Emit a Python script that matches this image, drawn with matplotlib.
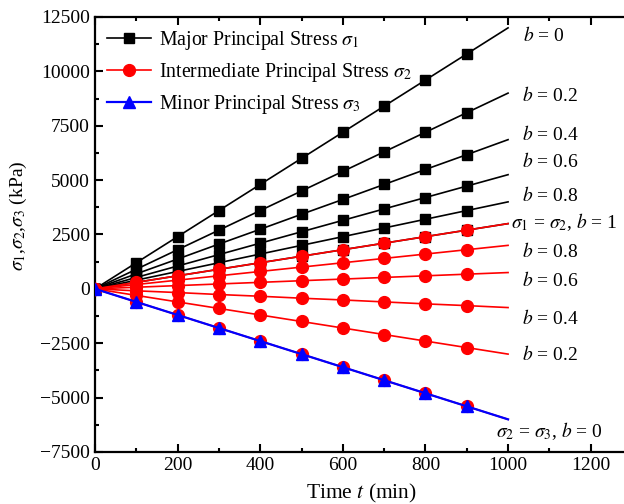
import matplotlib
matplotlib.use("Agg")
import matplotlib.pyplot as plt
from matplotlib.ticker import MultipleLocator

plt.rcParams['font.family'] = ['Liberation Serif', 'DejaVu Serif']
plt.rcParams['mathtext.fontset'] = 'stix'

# time (min)
t = [0, 100, 200, 300, 400, 500, 600, 700, 800, 900, 1000]

# major principal stress for b = 0, 0.2, 0.4, 0.6, 0.8, 1
s1_b0 = [0, 1200, 2400, 3600, 4800, 6000, 7200, 8400, 9600, 10800, 12000]
s1_b02 = [0, 900, 1800, 2700, 3600, 4500, 5400, 6300, 7200, 8100, 9000]
s1_b04 = [0, 690, 1370, 2060, 2740, 3430, 4110, 4800, 5490, 6170, 6860]
s1_b06 = [0, 525, 1050, 1575, 2100, 2625, 3150, 3675, 4200, 4725, 5250]
s1_b08 = [0, 400, 800, 1200, 1600, 2000, 2400, 2800, 3200, 3600, 4000]
s1_b1 = [0, 300, 600, 900, 1200, 1500, 1800, 2100, 2400, 2700, 3000]

# intermediate principal stress
s2_b0 = [0, -600, -1200, -1800, -2400, -3000, -3600, -4200, -4800, -5400, -6000]
s2_b02 = [0, -300, -600, -900, -1200, -1500, -1800, -2100, -2400, -2700, -3000]
s2_b04 = [0, -90, -170, -260, -340, -430, -510, -600, -690, -770, -860]
s2_b06 = [0, 75, 150, 225, 300, 375, 450, 525, 600, 675, 750]
s2_b08 = [0, 200, 400, 600, 800, 1000, 1200, 1400, 1600, 1800, 2000]
s2_b1 = [0, 300, 600, 900, 1200, 1500, 1800, 2100, 2400, 2700, 3000]

# minor principal stress (same for all b)
s3 = [0, -600, -1200, -1800, -2400, -3000, -3600, -4200, -4800, -5400, -6000]

sigma1 = [s1_b0, s1_b02, s1_b04, s1_b06, s1_b08, s1_b1]
sigma2 = [s2_b0, s2_b02, s2_b04, s2_b06, s2_b08, s2_b1]

fig = plt.figure(figsize=(6.24, 5.04), dpi=100)
ax = fig.add_axes([0.1522, 0.1032, 0.8606, 0.8631])

marks = slice(0, 10)
for i, s in enumerate(sigma1):
    ax.plot(t, s, color='black', lw=1.2, marker='s', ms=7, markevery=marks,
            label='Major Principal Stress $\\sigma_1$' if i == 0 else None, zorder=2)
for i, s in enumerate(sigma2):
    ax.plot(t, s, color='red', lw=1.2, marker='o', ms=8.5, markevery=marks,
            label='Intermediate Principal Stress $\\sigma_2$' if i == 0 else None, zorder=3)
ax.plot(t, s3, color='blue', lw=1.6, marker='^', ms=8, markevery=marks,
        label='Minor Principal Stress $\\sigma_3$', zorder=4)

# curve labels
fs = 14
ax.text(1086, 11670, '$b$ = 0', fontsize=fs, ha='center', va='center')
ax.text(1102, 8870, '$b$ = 0.2', fontsize=fs, ha='center', va='center')
ax.text(1102, 7075, '$b$ = 0.4', fontsize=fs, ha='center', va='center')
ax.text(1102, 5833, '$b$ = 0.6', fontsize=fs, ha='center', va='center')
ax.text(1102, 4270, '$b$ = 0.8', fontsize=fs, ha='center', va='center')
ax.text(1135, 3075, '$\\sigma_1$ = $\\sigma_2$, $b$ = 1', fontsize=fs, ha='center', va='center')
ax.text(1102, 1695, '$b$ = 0.8', fontsize=fs, ha='center', va='center')
ax.text(1102, 362, '$b$ = 0.6', fontsize=fs, ha='center', va='center')
ax.text(1102, -1385, '$b$ = 0.4', fontsize=fs, ha='center', va='center')
ax.text(1102, -3040, '$b$ = 0.2', fontsize=fs, ha='center', va='center')
ax.text(1099, -6534, '$\\sigma_2$ = $\\sigma_3$, $b$ = 0', fontsize=fs, ha='center', va='center')

ax.set_xlim(0, 1300)
ax.set_ylim(-7500, 12500)
ax.xaxis.set_major_locator(MultipleLocator(200))
ax.xaxis.set_minor_locator(MultipleLocator(100))
ax.yaxis.set_major_locator(MultipleLocator(2500))
ax.yaxis.set_minor_locator(MultipleLocator(1250))
ax.tick_params(which='both', direction='in', top=True, right=True, labelsize=14, width=1.5)
ax.tick_params(which='major', length=6)
ax.tick_params(which='minor', length=3)
for sp in ax.spines.values():
    sp.set_linewidth(1.6)

ax.set_xlabel('Time $t$ (min)', fontsize=15.5)
ax.xaxis.set_label_coords(0.497, -0.068)
ax.set_ylabel('$\\sigma_1$,$\\sigma_2$,$\\sigma_3$ (kPa)', fontsize=14)
ax.yaxis.set_label_coords(-0.122, 0.543)

ax.legend(loc='upper left', frameon=False, fontsize=14.3, handlelength=2.2,
          borderaxespad=0.2, labelspacing=0.46, handletextpad=0.4)

fig.savefig('out.png', dpi=100)
